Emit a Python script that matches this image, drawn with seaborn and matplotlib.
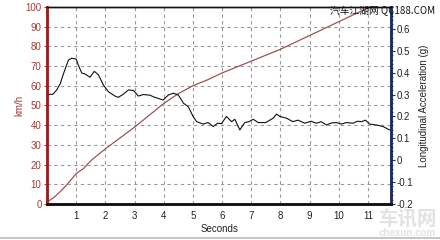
import matplotlib
matplotlib.use("Agg")
import matplotlib.pyplot as plt
import seaborn as sns
import pandas as pd
from matplotlib.ticker import MultipleLocator
from matplotlib.lines import Line2D

# ---- data ----
speed_time = [0, 0.25, 0.5, 0.75, 1, 1.25, 1.5, 2, 2.5, 3, 3.5, 4, 4.5, 5,
              5.5, 6, 6.5, 7, 7.5, 8, 8.5, 9, 9.5, 10, 10.5, 11, 11.1]
speed_kmh = [1, 3.5, 7, 11, 15.5, 18, 22, 28, 33.5, 39, 45, 51, 56, 60,
             63, 66.5, 69.5, 72.5, 75.5, 78.5, 82, 85.5, 89, 92.5, 96, 99.5, 100]

accel_time = [0, 0.2, 0.33, 0.45, 0.56, 0.73, 0.84, 1.0, 1.07, 1.19, 1.3, 1.47,
              1.62, 1.76, 1.93, 2.1, 2.33, 2.44, 2.6, 2.79, 2.97, 3.13, 3.3,
              3.53, 3.64, 3.98, 4.16, 4.33, 4.5, 4.68, 4.84, 5.01, 5.13, 5.35,
              5.52, 5.70, 5.85, 5.98, 6.15, 6.33, 6.44, 6.61, 6.78, 6.92, 7.07,
              7.24, 7.5, 7.75, 7.87, 7.98, 8.21, 8.43, 8.6, 8.84, 9.05, 9.24,
              9.4, 9.58, 9.75, 9.92, 10.1, 10.26, 10.49, 10.65, 10.78, 10.92,
              11.06, 11.29, 11.52, 11.75]
accel_g = [0.301, 0.301, 0.321, 0.349, 0.394, 0.457, 0.466, 0.462, 0.435, 0.398,
           0.394, 0.379, 0.406, 0.390, 0.344, 0.313, 0.293, 0.287, 0.300, 0.321,
           0.318, 0.293, 0.300, 0.297, 0.290, 0.275, 0.298, 0.306, 0.298, 0.260,
           0.245, 0.199, 0.176, 0.165, 0.172, 0.154, 0.169, 0.167, 0.200, 0.176,
           0.187, 0.138, 0.172, 0.176, 0.187, 0.172, 0.172, 0.192, 0.211, 0.200,
           0.192, 0.176, 0.183, 0.169, 0.178, 0.169, 0.176, 0.161, 0.170, 0.172,
           0.165, 0.172, 0.169, 0.178, 0.176, 0.183, 0.165, 0.161, 0.154, 0.138]

x_ticks = list(range(1, 12))
left_ticks = list(range(0, 101, 10))
right_ticks = [-0.2, -0.1, 0, 0.1, 0.2, 0.3, 0.4, 0.5, 0.6]
right_labels = ["-0.2", "-0.1", "0", "0.1", "0.2", "0.3", "0.4", "0.5", "0.6"]

sns.set_style("white")
plt.rcParams['font.family'] = ['Liberation Sans', 'Noto Sans CJK SC', 'DejaVu Sans']

fig = plt.figure(figsize=(4.4, 2.4), dpi=100)
ax = fig.add_axes([0.107, 0.15, 0.782, 0.821])
ax2 = ax.twinx()

speed_df = pd.DataFrame({"t": speed_time, "v": speed_kmh})
accel_df = pd.DataFrame({"t": accel_time, "a": accel_g})

red = "#a03a3a"
navy = "#1c2c5c"

sns.lineplot(data=speed_df, x="t", y="v", ax=ax, color="#9a5555", lw=0.9, zorder=3)
sns.lineplot(data=accel_df, x="t", y="a", ax=ax2, color="#111111", lw=0.8)

ax.set_xlim(0, 11.8)
ax.set_ylim(0, 100)
ax2.set_ylim(-0.2, 0.7)

ax.set_xticks(x_ticks)
ax.set_yticks(left_ticks)
ax.xaxis.set_minor_locator(MultipleLocator(0.2))
ax2.set_yticks(right_ticks)
ax2.set_yticklabels(right_labels)
ax2.yaxis.set_minor_locator(MultipleLocator(0.02))

ax.grid(True, which="major", color="#999999", ls=(0, (3, 3)), lw=0.8)
ax.set_axisbelow(True)

ax.tick_params(axis="x", which="major", direction="in", length=3, labelsize=7,
               colors="#222222", pad=5)
ax.tick_params(axis="x", which="minor", direction="in", length=1.5, color="#222222")
ax.tick_params(axis="y", which="major", direction="out", length=2, labelsize=7,
               colors=red, pad=2)
ax2.tick_params(axis="y", which="major", direction="out", length=3, labelsize=7,
                colors="#222222", color=navy, pad=1)
ax2.tick_params(axis="y", which="minor", direction="out", length=1.5, color=navy)

for a in (ax, ax2):
    a.spines["top"].set_color("#111111")
    a.spines["top"].set_linewidth(1.0)
    a.spines["bottom"].set_color("#111111")
    a.spines["bottom"].set_linewidth(1.8)
    a.spines["left"].set_color("#9a2020")
    a.spines["left"].set_linewidth(1.8)
    a.spines["right"].set_color(navy)
    a.spines["right"].set_linewidth(1.8)

ax.set_xlabel("Seconds", fontsize=7, color="#222222", labelpad=2)
ax.set_ylabel("km/h", fontsize=7, color=red, labelpad=1)
ax2.set_ylabel("Longitudinal Acceleration (g)", fontsize=7, color="#222222", labelpad=4)

# watermarks
fig.text(0.99, 0.955, "汽车江湖网 QC188.COM", fontsize=7, color="#111111",
         ha="right", va="center", family=['Noto Sans CJK SC', 'DejaVu Sans'])
fig.text(0.925, 0.085, "车讯网", fontsize=14, color="#e2e2e2", ha="center",
         va="center", fontweight="bold", family=['Noto Sans CJK SC', 'DejaVu Sans'])
fig.text(0.925, 0.03, "chexun.com", fontsize=7, color="#e2e2e2", ha="center",
         va="center", fontweight="bold")

fig.add_artist(Line2D([0, 1], [0.01, 0.01], color="#bbbbbb", lw=1.2,
                      transform=fig.transFigure))

fig.savefig("out.png", dpi=100)
